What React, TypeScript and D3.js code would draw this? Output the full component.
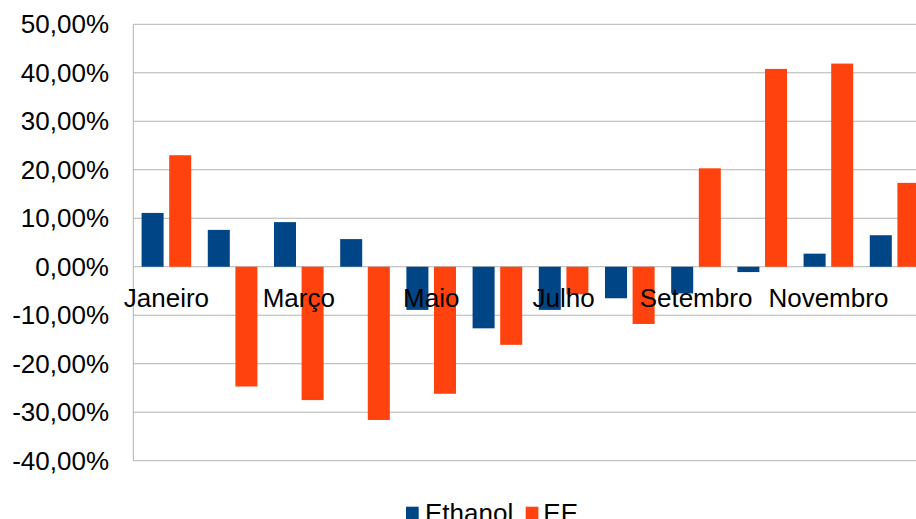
import React from 'react';
import * as d3 from 'd3';

const months = ['Janeiro', 'Fevereiro', 'Março', 'Abril', 'Maio', 'Junho', 'Julho', 'Agosto', 'Setembro', 'Outubro', 'Novembro', 'Dezembro'];
const series = ['Ethanol', 'EE'];
const ethanol = [11.1, 7.6, 9.2, 5.7, -8.9, -12.7, -8.9, -6.5, -5.5, -1.1, 2.7, 6.5];
const ee = [23.0, -24.7, -27.5, -31.6, -26.2, -16.1, -5.7, -11.8, 20.3, 40.8, 41.9, 17.3];
const yTicks = [50, 40, 30, 20, 10, 0, -10, -20, -30, -40];
const colors = { Ethanol: '#004586', EE: '#ff420e' };

const width = 916;
const height = 519;
const font = '"Liberation Sans", Arial, sans-serif';

const App = () => {
  const x = d3.scaleBand().domain(months).range([133.3, 927.7]);
  const x1 = d3.scaleBand().domain(series).range([0, x.bandwidth()]).paddingInner(0.203).paddingOuter(0.3);
  const y = d3.scaleLinear().domain([-40, 50]).range([460.7, 24.3]);
  const fmt = (v: number) => v.toFixed(2).replace('.', ',') + '%';

  const values = { Ethanol: ethanol, EE: ee };

  return (
    <svg width={width} height={height} style={{ position: 'absolute', left: 0, top: 0 }} fontFamily={font}>
      <rect width={width} height={height} fill="#fff" />
      {/* gridlines */}
      {yTicks.map(t => (
        <line key={t} x1={133.3} x2={width} y1={y(t)} y2={y(t)} stroke="#b3b3b3" strokeWidth={1} />
      ))}
      <line x1={133.3} x2={133.3} y1={y(50)} y2={y(-40)} stroke="#b3b3b3" strokeWidth={1} />
      {/* y labels */}
      {yTicks.map(t => (
        <text key={t} x={109} y={y(t)} dy="0.35em" textAnchor="end" fontSize={26} fill="#000">{fmt(t)}</text>
      ))}
      {/* bars */}
      {months.map((m, i) => (
        <g key={m} transform={`translate(${x(m)},0)`}>
          {series.map(s => {
            const v = values[s][i];
            return (
              <rect key={s} x={x1(s)} width={x1.bandwidth()}
                y={Math.min(y(v), y(0))} height={Math.abs(y(v) - y(0))}
                fill={colors[s]} />
            );
          })}
        </g>
      ))}
      {/* x labels, every second month */}
      {months.map((m, i) => i % 2 === 0 ? (
        <text key={m} x={x(m)! + x.bandwidth() / 2} y={306.7} textAnchor="middle" fontSize={26} fill="#000">{m}</text>
      ) : null)}
      {/* legend */}
      <rect x={406} y={506.7} width={12.7} height={12.7} fill={colors.Ethanol} />
      <text x={425} y={522} fontSize={26} fill="#000">Ethanol</text>
      <rect x={525.7} y={506.7} width={12.7} height={12.7} fill={colors.EE} />
      <text x={543.3} y={522} fontSize={26} fill="#000">EE</text>
    </svg>
  );
};

export default App;
